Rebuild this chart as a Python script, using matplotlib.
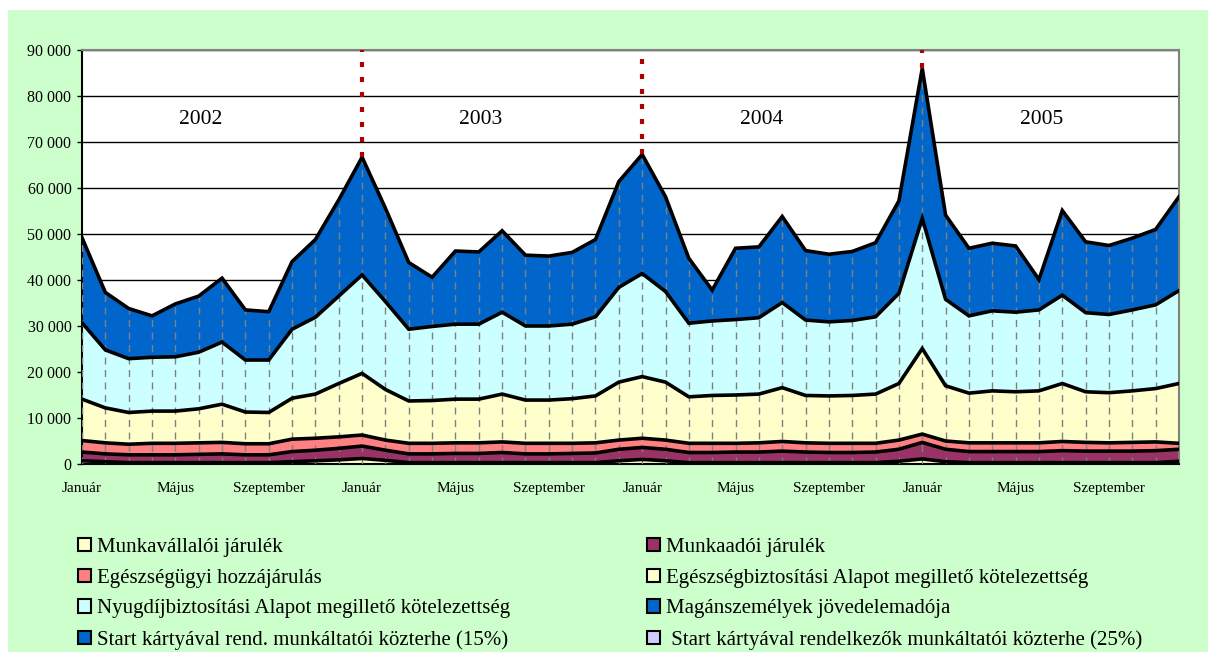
import numpy as np
import matplotlib
matplotlib.use('Agg')
import matplotlib.pyplot as plt
from matplotlib.patches import Patch, Rectangle

plt.rcParams['font.family'] = ['Liberation Serif', 'DejaVu Serif']

# monthly values, Jan 2002 .. Dec 2005
munkavallaloi = [700, 500, 300, 300, 300, 300, 300, 300, 300, 500, 700, 900,
                 1200, 800, 300, 300, 300, 300, 300, 300, 300, 300, 300, 700,
                 1000, 700, 300, 300, 300, 300, 300, 300, 300, 300, 300, 600,
                 1100, 500, 300, 300, 300, 300, 300, 300, 300, 300, 300, 600]
munkaadoi = [1900, 1700, 1700, 1700, 1700, 1800, 1900, 1700, 1700, 2200, 2300, 2500,
             2700, 2200, 1900, 1900, 2000, 2000, 2200, 1900, 1900, 2000, 2100, 2500,
             2600, 2500, 2200, 2200, 2300, 2300, 2500, 2300, 2200, 2200, 2300, 2600,
             3600, 2700, 2400, 2400, 2400, 2400, 2600, 2500, 2500, 2500, 2600, 2600]
egeszsegugyi = [2500, 2400, 2300, 2500, 2500, 2500, 2500, 2400, 2400, 2700, 2600, 2500,
                2400, 2200, 2300, 2300, 2300, 2300, 2300, 2300, 2300, 2200, 2200, 2000,
                2000, 2000, 2000, 2000, 1900, 2000, 2100, 2000, 2000, 2000, 1900, 2000,
                1800, 1800, 1900, 1900, 1900, 1900, 2000, 1900, 1800, 1900, 1900, 1300]
eb_alap = [9000, 7600, 6900, 7000, 7000, 7400, 8300, 6900, 6800, 8900, 9600, 11600,
           13400, 11000, 9200, 9300, 9500, 9500, 10400, 9400, 9400, 9700, 10200, 12600,
           13400, 12600, 10100, 10400, 10500, 10600, 11700, 10300, 10300, 10400, 10700, 12300,
           18600, 12000, 10800, 11300, 11100, 11300, 12600, 11000, 10900, 11200, 11600, 13000]
nyugdij = [16600, 12600, 11700, 11700, 11800, 12300, 13500, 11300, 11400, 15000, 16700, 19000,
           21400, 19100, 15600, 16100, 16300, 16300, 17800, 16100, 16100, 16200, 17200, 20600,
           22400, 19700, 16000, 16200, 16400, 16600, 18500, 16400, 16100, 16300, 16800, 19600,
           28300, 18800, 16800, 17400, 17300, 17600, 19200, 17200, 17000, 17600, 18200, 20200]
szja = [18500, 12500, 10900, 9000, 11500, 12200, 13900, 10900, 10500, 14700, 16900, 20900,
        25600, 20300, 14500, 10700, 15900, 15700, 17700, 15400, 15200, 15600, 16800, 23000,
        25900, 20600, 14100, 6700, 15500, 15400, 18700, 15100, 14700, 15000, 16100, 20100,
        32600, 18300, 14700, 14700, 14400, 6600, 18400, 15400, 15000, 15600, 16400, 20400]
start15 = [0] * 48
start25 = [0] * 48

month_labels = ['Január', 'Május', 'Szeptember']
years = ['2002', '2003', '2004', '2005']

names = ['Munkavállalói járulék', 'Munkaadói járulék', 'Egészségügyi hozzájárulás',
         'Egészségbiztosítási Alapot megillető kötelezettség',
         'Nyugdíjbiztosítási Alapot megillető kötelezettség', 'Magánszemélyek jövedelemadója',
         'Start kártyával rend. munkáltatói közterhe (15%)',
         ' Start kártyával rendelkezők munkáltatói közterhe (25%)']
colors = ['#FFFFCC', '#993366', '#FF8080', '#FFFFCC', '#CCFFFF', '#0066CC', '#0066CC', '#CCCCFF']

series = np.array([munkavallaloi, munkaadoi, egeszsegugyi, eb_alap, nyugdij, szja, start15, start25])
x = np.arange(series.shape[1])
cum = np.cumsum(series, axis=0)
total = cum[-1]

fig = plt.figure(figsize=(12.08, 6.52), dpi=100, facecolor='white')
fig.patches.append(Rectangle((8 / 1208, 0), 1200 / 1208, 642 / 652, transform=fig.transFigure,
                             facecolor='#CCFFCC', edgecolor='none', zorder=-10))
ax = fig.add_axes([82 / 1208, 1 - 464 / 652, 1097 / 1208, 414 / 652])
ax.set_facecolor('white')

ax.stackplot(x, series, colors=colors, linewidth=0, zorder=2)
# drop lines from the top of the stack
ax.vlines(x, 0, total, colors='#808080', linestyles=(0, (5, 4)), linewidth=1, zorder=3)
for row in cum[:6]:
    ax.plot(x, row, color='black', lw=2.6, zorder=4, solid_joinstyle='miter')

# year separators
for i in (12, 24, 36):
    ax.vlines(i, total[i], 90000, colors='#B00000', linestyles=(0, (1.2, 2.4)), linewidth=3, zorder=5)

for i, yr in enumerate(years):
    ax.text(5.1 + 12 * i, 74800, yr, fontsize=15.5, ha='center', va='center', zorder=6)

ax.set_xlim(0, 47)
ax.set_ylim(0, 90000)
ax.set_yticks(np.arange(0, 90001, 10000))
ax.set_yticklabels([f'{v:,}'.replace(',', ' ') for v in range(0, 90001, 10000)])
ax.tick_params(axis='y', labelsize=11.5, length=3.6, width=1, pad=4)
ax.yaxis.grid(True, color='black', lw=1)
ax.set_axisbelow(True)

ax.set_xticks(np.arange(0, 48, 4))
ax.set_xticklabels([month_labels[k % 3] for k in range(12)])
ax.tick_params(axis='x', labelsize=11, length=0, pad=13)
ax.set_xticks([0, 12, 24, 36], minor=True)
ax.tick_params(axis='x', which='minor', length=4, width=1)

for s in ('left', 'bottom'):
    ax.spines[s].set_color('black')
    ax.spines[s].set_linewidth(1.5)
for s in ('top', 'right'):
    ax.spines[s].set_color('#808080')
    ax.spines[s].set_linewidth(1.5)

handles = [Patch(facecolor=c, edgecolor='black', linewidth=1.5) for c in colors]
order = [0, 2, 4, 6, 1, 3, 5, 7]
fig.legend([handles[k] for k in order], [names[k] for k in order], ncol=2,
           loc='upper left', bbox_to_anchor=(78 / 1208, 1 - 538 / 652), frameon=False,
           fontsize=15, handlelength=0.6, handleheight=0.6, handletextpad=0.3,
           labelspacing=0.56, columnspacing=6.6, borderaxespad=0, borderpad=0)

fig.savefig('out.png', dpi=100, facecolor='white')
